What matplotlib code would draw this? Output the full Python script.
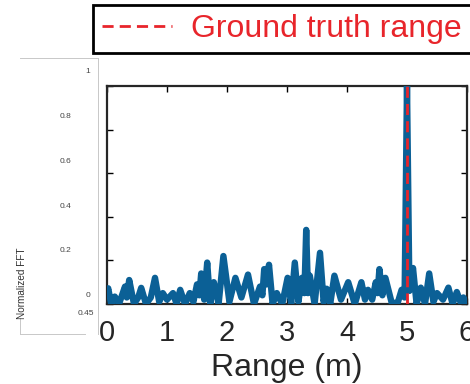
import matplotlib
matplotlib.use("Agg")
import matplotlib.pyplot as plt

plt.rcParams['font.family'] = ['Liberation Sans', 'DejaVu Sans']

# normalized FFT magnitude vs range (m)
rng = [0.00, 0.02, 0.07, 0.13, 0.20, 0.30, 0.33, 0.37, 0.45, 0.52, 0.57, 0.65, 0.73,
       0.80, 0.87, 0.93, 1.00, 1.10, 1.16, 1.22, 1.30, 1.38, 1.44, 1.50, 1.54, 1.57,
       1.62, 1.67, 1.72, 1.78, 1.86, 1.94, 2.04, 2.14, 2.24, 2.35, 2.45, 2.55, 2.59,
       2.62, 2.66, 2.70, 2.76, 2.83, 2.92, 3.01, 3.07, 3.13, 3.19, 3.25, 3.29, 3.32,
       3.35, 3.38, 3.46, 3.55, 3.61, 3.66, 3.72, 3.79, 3.90, 4.02, 4.13, 4.24, 4.30,
       4.35, 4.42, 4.48, 4.51, 4.54, 4.59, 4.64, 4.75, 4.85, 4.91, 4.96, 5.00, 5.04,
       5.10, 5.16, 5.23, 5.30, 5.37, 5.44, 5.50, 5.60, 5.69, 5.76, 5.83, 5.89, 5.94,
       6.00]
fft = [0.05, 0.072, 0.0, 0.034, 0.0, 0.08, 0.03, 0.11, 0.0, 0.03, 0.074, 0.0, 0.03,
       0.12, 0.01, 0.05, 0.02, 0.05, 0.0, 0.065, 0.0, 0.05, 0.01, 0.09, 0.04, 0.14,
       0.02, 0.19, 0.0, 0.10, 0.0, 0.22, 0.01, 0.12, 0.03, 0.135, 0.0, 0.08, 0.04,
       0.16, 0.09, 0.18, 0.0, 0.05, 0.0, 0.12, 0.0, 0.19, 0.01, 0.12, 0.05, 0.34,
       0.05, 0.13, 0.0, 0.235, 0.01, 0.07, 0.0, 0.13, 0.02, 0.10, 0.0, 0.10, 0.02,
       0.065, 0.02, 0.10, 0.05, 0.16, 0.04, 0.12, 0.0, 0.01, 0.065, 0.03, 1.0, 0.06,
       0.165, 0.0, 0.075, 0.0, 0.14, 0.01, 0.05, 0.02, 0.075, 0.0, 0.055, 0.01, 0.03,
       0.0]
truth = 5.0
ghost_ticks = [0, 0.2, 0.4, 0.6, 0.8, 1]

fig = plt.figure(figsize=(4.7, 3.84), dpi=100)

# faint leftover axes behind the main one
gx = fig.add_axes([20/470, 1-334/384, 78/470, 276/384])
gx.set_xlim(0, 1)
gx.set_ylim(-0.169, 1.058)
gx.set_xticks([])
gx.set_yticks([])
for s in gx.spines.values():
    s.set_color('#c8c8c8')
    s.set_linewidth(0.7)
gx.spines['left'].set_bounds(-0.169, -0.1)
gx.spines['bottom'].set_bounds(0, 0.83)
for t in ghost_ticks:
    xp = 0.87 if t in (0, 1) else 0.58
    gx.text(xp, t, f'{t:g}', fontsize=6, color='#444444', ha='center', va='center')
gx.text(0.84, -0.076, '0.45', fontsize=6, color='#444444', ha='center', va='center')
gx.text(0.03, 0.058, 'Normalized FFT', fontsize=7.2, color='#333333', rotation=90,
        ha='center', va='center')

ax = fig.add_axes([107/470, 1-304/384, 360/470, 218/384])
ax.plot(rng, fft, color='#0b6096', lw=4.6, solid_joinstyle='round',
        solid_capstyle='round', zorder=3)
ax.plot([truth, truth], [0, 1], color='#e8252b', lw=2, dashes=(4, 2.2), zorder=4,
        label='Ground truth range')
ax.set_xlim(0, 6)
ax.set_ylim(0, 1)
ax.set_xticks(range(7))
ax.set_yticks(ghost_ticks)
ax.set_yticklabels([])
ax.tick_params(direction='in', length=4, width=1, top=True, right=True,
               labelsize=21, labelcolor='#262626', pad=11)
for s in ax.spines.values():
    s.set_linewidth(1.6)
    s.set_color('#262626')
ax.set_xlabel('Range (m)', fontsize=23, color='#262626', labelpad=4)

leg = ax.legend(loc='upper left', bbox_to_anchor=(93/470, 1-5/384),
                bbox_transform=fig.transFigure, fontsize=23, labelcolor='#e8252b',
                handlelength=2.2, handletextpad=0.6, borderpad=0.28, borderaxespad=0,
                fancybox=False, framealpha=1)
leg.get_frame().set_edgecolor('black')
leg.get_frame().set_linewidth(2)

fig.savefig('out.png', dpi=100)
